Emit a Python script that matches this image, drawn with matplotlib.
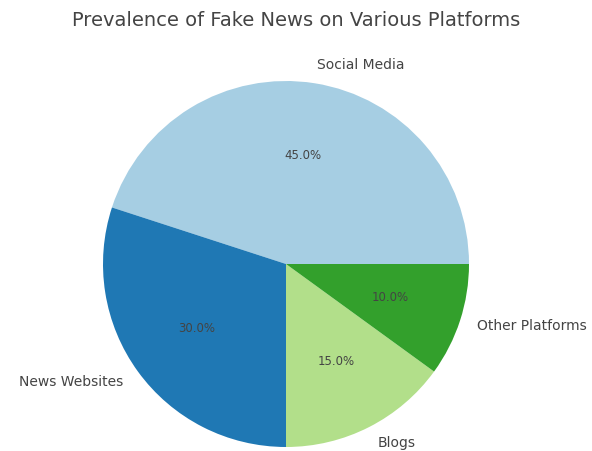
import numpy as np
from matplotlib import pyplot as plt

platforms = ['Social Media', 'News Websites', 'Blogs', 'Other Platforms']
shares = [45, 30, 15, 10]

def main():
    colors = plt.cm.Paired(np.arange(len(platforms)))
    fig = plt.figure(figsize=(5.92, 4.51), dpi=100)
    ax = fig.add_axes([0.0, 0.0, 1.0, 1.0])
    wedges, texts, pcts = ax.pie(shares, labels=platforms, colors=colors,
                                 autopct='%1.1f%%', startangle=0,
                                 textprops={'fontsize': 10, 'color': '#444444'})
    for t in pcts:
        t.set_fontsize(8.5)
    # pie centre at (286, 264) px from top-left, radius ~183 px
    r = 183.0
    ax.set_xlim(-286 / r, (592 - 286) / r)
    ax.set_ylim(-(451 - 264) / r, 264 / r)
    ax.set_aspect('equal')
    fig.text(0.5, 1 - 20 / 451, 'Prevalence of Fake News on Various Platforms',
             fontsize=14, color='#444444', ha='center', va='center')
    fig.savefig('out.png', dpi=100)

if __name__ == "__main__":
    main()
